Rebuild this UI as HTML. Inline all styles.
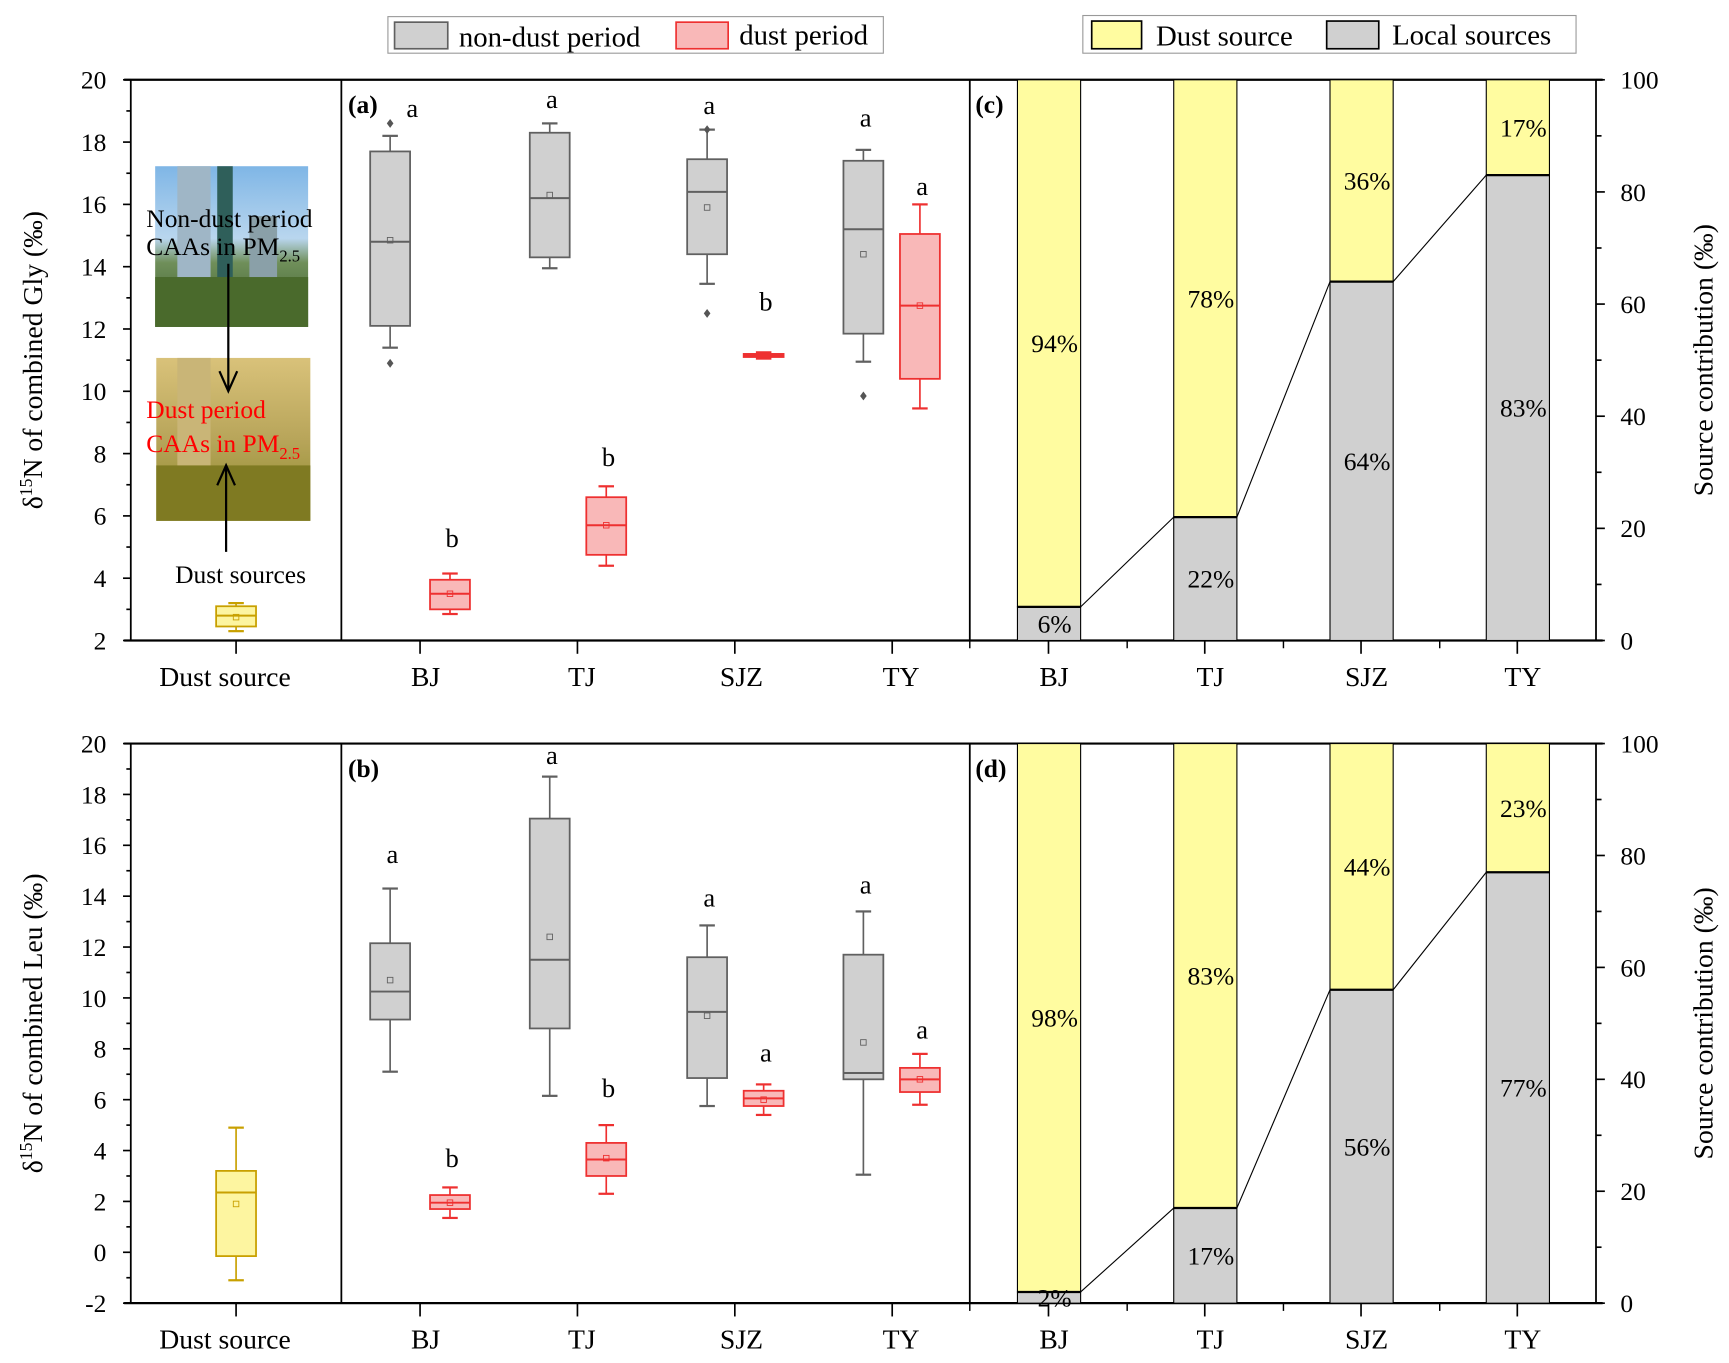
<!DOCTYPE html>
<html><head><meta charset="utf-8"><style>
html,body{margin:0;padding:0;background:#fff}
svg{display:block;font-family:"Liberation Serif",serif}
</style></head><body>
<svg id="chart" width="1729" height="1363" viewBox="0 0 1560 1230" preserveAspectRatio="none" xmlns="http://www.w3.org/2000/svg">
<defs>
<linearGradient id="sky" x1="0" y1="0" x2="0" y2="1"><stop offset="0" stop-color="#7fb6e6"/><stop offset="0.45" stop-color="#b9d6ee"/><stop offset="0.6" stop-color="#6f8f5a"/><stop offset="1" stop-color="#3c5a2a"/></linearGradient>
<linearGradient id="dust" x1="0" y1="0" x2="0" y2="1"><stop offset="0" stop-color="#d9c27a"/><stop offset="0.5" stop-color="#b8a55a"/><stop offset="1" stop-color="#8a8a2a"/></linearGradient>
</defs>
<g id="root"></g>
</svg>
<script>
// ---- data ----
const catsA = ["BJ","TJ","SJZ","TY"];
// Gly [low, q1, median, q3, high, mean]
const glyNonDust = [[11.4,12.1,14.8,17.7,18.2,14.85],[13.95,14.3,16.2,18.3,18.6,16.3],[13.45,14.4,16.4,17.45,18.4,15.9],[10.95,11.85,15.2,17.4,17.75,14.4]];
const glyDust = [[2.85,3.0,3.5,3.95,4.15,3.5],[4.4,4.75,5.7,6.6,6.95,5.7],[11.05,11.1,11.15,11.2,11.25,11.15],[9.45,10.4,12.75,15.05,16.0,12.75]];
const glySource = [2.3,2.45,2.8,3.1,3.2,2.75];
const glyOutliers = [[18.6,10.9],[],[18.4,12.5],[9.85]];
const glyLettersND = ["a","a","a","a"];
const glyLetterYND = [18.8,19.1,18.9,18.5];
const glyLettersD = ["b","b","b","a"];
const glyLetterYD = [5.0,7.6,12.6,16.3];
// Leu
const leuNonDust = [[7.1,9.15,10.25,12.15,14.3,10.7],[6.15,8.8,11.5,17.05,18.7,12.4],[5.75,6.85,9.45,11.6,12.85,9.3],[3.05,6.8,7.05,11.7,13.4,8.25]];
const leuDust = [[1.35,1.7,1.95,2.25,2.55,1.95],[2.3,3.0,3.65,4.3,5.0,3.7],[5.4,5.75,6.05,6.35,6.6,6.0],[5.8,6.3,6.8,7.25,7.8,6.8]];
const leuSource = [-1.1,-0.15,2.35,3.2,4.9,1.9];
const leuLettersND = ["a","a","a","a"];
const leuLetterYND = [15.3,19.2,13.6,14.1];
const leuLettersD = ["b","b","a","a"];
const leuLetterYD = [3.35,6.1,7.5,8.4];
// source contributions (%)
const localC = [6,22,64,83];
const dustC = [94,78,36,17];
const localD = [2,17,56,77];
const dustD = [98,83,44,23];

const NS="http://www.w3.org/2000/svg";
const root=document.getElementById('root');
function el(tag,attrs,parent,text){const e=document.createElementNS(NS,tag);for(const k in attrs)e.setAttribute(k,attrs[k]);if(text!==undefined)e.textContent=text;(parent||root).appendChild(e);return e;}

const X0=118,XS=308,XA=875,X1=1440;
const ndX=[352,496,638,779], dX=[406,547,689,830], labX=[384,525,669,813];
const barX=[946,1087,1228,1369], BW=57;
const GRAY={f:"#d0d0d0",s:"#606060"},RED={f:"#f9b8b8",s:"#ee3030"},YEL={f:"#fdf5a0",s:"#c8a000"};

function drawPanel(top,bot,ymin,ymax,nd,d,src,outs,lND,lyND,lD,lyD,loc,dst,tag1,tag2,ytitle){
  const y=v=>bot-(v-ymin)/(ymax-ymin)*(bot-top);
  const r=v=>top+(100-v)/100*(bot-top);
  // frames
  let f=el('line',{x1:X0-6,y1:top,x2:X1+6,y2:top,stroke:"#000","stroke-width":2});
  
  
  el('line',{x1:X0-6,y1:bot,x2:X1+6,y2:bot,stroke:"#000","stroke-width":2});
  [X0,XS,XA,X1].forEach(x=>el('line',{x1:x,y1:top,x2:x,y2:bot,stroke:"#000","stroke-width":1.6}));
  // left ticks
  for(let v=ymin;v<=ymax;v+=1){const maj=(v-ymin)%2===0;el('line',{x1:X0-(maj?7:4),y1:y(v),x2:X0,y2:y(v),stroke:"#000","stroke-width":1.5});
    if(maj){const t=el('text',{x:96,y:y(v)+8,"text-anchor":"end","font-size":23},root,String(v));}}
  const yt=el('text',{x:0,y:0,"text-anchor":"middle","font-size":25,transform:`translate(38,${(top+bot)/2}) rotate(-90)`},root);
  
  yt.innerHTML='δ<tspan baseline-shift="super" font-size="16">15</tspan>N of combined '+ytitle+' (‰)';
  // right ticks
  for(let v=0;v<=100;v+=10){const maj=v%20===0;el('line',{x1:X1,y1:r(v),x2:X1+(maj?8:5),y2:r(v),stroke:"#000","stroke-width":1.5});
    if(maj){const t=el('text',{x:1462,y:r(v)+8,"font-size":23},root,String(v));}}
  const rt=el('text',{x:0,y:0,"text-anchor":"middle","font-size":25,transform:`translate(1545,${(top+bot)/2}) rotate(-90)`},root,'Source contribution (‰)');
  
  // bottom ticks + labels
  [213,...[379,521,663,805]].forEach(x=>el('line',{x1:x,y1:bot,x2:x,y2:bot+12,stroke:"#000","stroke-width":1.5}));
  barX.forEach(x=>el('line',{x1:x,y1:bot,x2:x,y2:bot+12,stroke:"#000","stroke-width":1.5}));
  [1017,1158,1299,875].forEach(x=>el('line',{x1:x,y1:bot,x2:x,y2:bot+7,stroke:"#000","stroke-width":1.3}));
  const ly=bot+41;
  let t=el('text',{x:203,y:ly,"text-anchor":"middle","font-size":25},root,'Dust source');
  catsA.forEach((c,i)=>{let a=el('text',{x:labX[i],y:ly,"text-anchor":"middle","font-size":25},root,c);
    let b=el('text',{x:barX[i]+5,y:ly,"text-anchor":"middle","font-size":25},root,c);});
  // boxes
  function box(x,s,c,name){const g=el('g',{});
    const w=36,h=14;
    el('line',{x1:x,y1:y(s[0]),x2:x,y2:y(s[1]),stroke:c.s,"stroke-width":1.5},g);
    el('line',{x1:x,y1:y(s[3]),x2:x,y2:y(s[4]),stroke:c.s,"stroke-width":1.5},g);
    el('line',{x1:x-h/2,y1:y(s[0]),x2:x+h/2,y2:y(s[0]),stroke:c.s,"stroke-width":2},g);
    el('line',{x1:x-h/2,y1:y(s[4]),x2:x+h/2,y2:y(s[4]),stroke:c.s,"stroke-width":2},g);
    el('rect',{x:x-w/2,y:y(s[3]),width:w,height:Math.max(1,y(s[1])-y(s[3])),fill:c.f,stroke:c.s,"stroke-width":1.6},g);
    el('line',{x1:x-w/2,y1:y(s[2]),x2:x+w/2,y2:y(s[2]),stroke:c.s,"stroke-width":1.8},g);
    el('rect',{x:x-2.5,y:y(s[5])-2.5,width:5,height:5,fill:"none",stroke:c.s,"stroke-width":0.8},g);}
  box(213,src,YEL,'box-dust-source');
  catsA.forEach((c,i)=>{box(ndX[i],nd[i],GRAY,'box-nondust-'+c.toLowerCase());box(dX[i],d[i],RED,'box-dust-'+c.toLowerCase());
    (outs[i]||[]).forEach(o=>{const p=el('path',{d:`M${ndX[i]} ${y(o)-4}L${ndX[i]+3} ${y(o)}L${ndX[i]} ${y(o)+4}L${ndX[i]-3} ${y(o)}Z`,fill:"#555"});});
    let la=el('text',{x:ndX[i]+(i===0&&outs[0].length?20:2),y:y(lyND[i]),"text-anchor":"middle","font-size":24},root,lND[i]);
    let lb=el('text',{x:dX[i]+2,y:y(lyD[i]),"text-anchor":"middle","font-size":24},root,lD[i]);
  });
  // bars
  catsA.forEach((c,i)=>{const x=barX[i]-28;
    let b1=el('rect',{x:x,y:r(100),width:BW,height:r(loc[i])-r(100),fill:"#fffca0",stroke:"#000","stroke-width":1});
    let b2=el('rect',{x:x,y:r(loc[i]),width:BW,height:r(0)-r(loc[i]),fill:"#d0d0d0",stroke:"#000","stroke-width":1});
    el('line',{x1:x,y1:r(loc[i]),x2:x+BW,y2:r(loc[i]),stroke:"#000","stroke-width":2});
    let t1=el('text',{x:x+BW/2+5,y:r((loc[i]+100)/2)+8,"text-anchor":"middle","font-size":23},root,dst[i]+'%');
    let t2=el('text',{x:x+BW/2+5,y:r(loc[i]/2)+8,"text-anchor":"middle","font-size":23},root,loc[i]+'%');
    if(i<3){let ln=el('line',{x1:x+BW,y1:r(loc[i]),x2:barX[i+1]-28,y2:r(loc[i+1]),stroke:"#000","stroke-width":1});}
  });
  let p1=el('text',{x:314,y:top+30,"font-size":23,"font-weight":"bold"},root,tag1);
  let p2=el('text',{x:880,y:top+30,"font-size":23,"font-weight":"bold"},root,tag2);
}
drawPanel(72,578,2,20,glyNonDust,glyDust,glySource,glyOutliers,glyLettersND,glyLetterYND,glyLettersD,glyLetterYD,localC,dustC,'(a)','(c)','Gly');
drawPanel(671,1176,-2,20,leuNonDust,leuDust,leuSource,[[],[],[],[]],leuLettersND,leuLetterYND,leuLettersD,leuLetterYD,localD,dustD,'(b)','(d)','Leu');

// photos
let ph1=el('g',{});
el('rect',{x:140,y:150,width:138,height:145,fill:"url(#sky)"},ph1);
el('rect',{x:160,y:150,width:30,height:110,fill:"#9fb6c6"},ph1);
el('rect',{x:196,y:150,width:14,height:120,fill:"#2f5f5a"},ph1);
el('rect',{x:225,y:195,width:25,height:70,fill:"#8aa0a8"},ph1);
el('rect',{x:140,y:250,width:138,height:45,fill:"#4a6a2c"},ph1);
let ph2=el('g',{});
el('rect',{x:141,y:323,width:139,height:147,fill:"url(#dust)"},ph2);
el('rect',{x:160,y:323,width:30,height:100,fill:"#c9b577"},ph2);
el('rect',{x:141,y:420,width:139,height:50,fill:"#7f7a22"},ph2);
function txt(x,y,s,fill,name,html){const t=el('text',{x:x,y:y,"font-size":23,fill:fill});if(html)t.innerHTML=s;else t.textContent=s;return t;}
txt(132,205,'Non-dust period','#000','photo-caption-nondust');
txt(132,230,'CAAs in PM<tspan font-size="15" dy="6">2.5</tspan>','#000','photo-caption-nondust-2',true);
txt(132,377,'Dust period','#ff0000','photo-caption-dust');
txt(132,408,'CAAs in PM<tspan font-size="15" dy="6">2.5</tspan>','#ff0000','photo-caption-dust-2',true);
txt(158,526,'Dust sources','#000','dust-sources-caption');
el('line',{x1:206,y1:238,x2:206,y2:352,stroke:"#000","stroke-width":2});
el('path',{d:"M198 335L206 353L214 335",fill:"none",stroke:"#000","stroke-width":2});
el('line',{x1:204,y1:498,x2:204,y2:421,stroke:"#000","stroke-width":2});
el('path',{d:"M196 438L204 420L212 438",fill:"none",stroke:"#000","stroke-width":2});

// legends
let lg=el('g',{});
el('rect',{x:350,y:15,width:447,height:33,fill:"#fff",stroke:"#999","stroke-width":1},lg);
let e1=el('rect',{x:356,y:20,width:48,height:24,fill:"#d0d0d0",stroke:"#606060","stroke-width":1.5},lg);
el('text',{x:414,y:42,"font-size":26},lg,'non-dust period');
let e2=el('rect',{x:610,y:20,width:47,height:24,fill:"#f9b8b8",stroke:"#ee3030","stroke-width":1.5},lg);
el('text',{x:667,y:40,"font-size":26},lg,'dust period');
let lg2=el('g',{});
el('rect',{x:977,y:14,width:445,height:34,fill:"#fff",stroke:"#999","stroke-width":1},lg2);
let e3=el('rect',{x:985,y:19,width:45,height:25,fill:"#fffca0",stroke:"#000","stroke-width":1.5},lg2);
el('text',{x:1043,y:41,"font-size":26},lg2,'Dust source');
let e4=el('rect',{x:1197,y:19,width:47,height:25,fill:"#d0d0d0",stroke:"#000","stroke-width":1.5},lg2);
el('text',{x:1256,y:40,"font-size":26},lg2,'Local sources');
</script>
</body></html>
